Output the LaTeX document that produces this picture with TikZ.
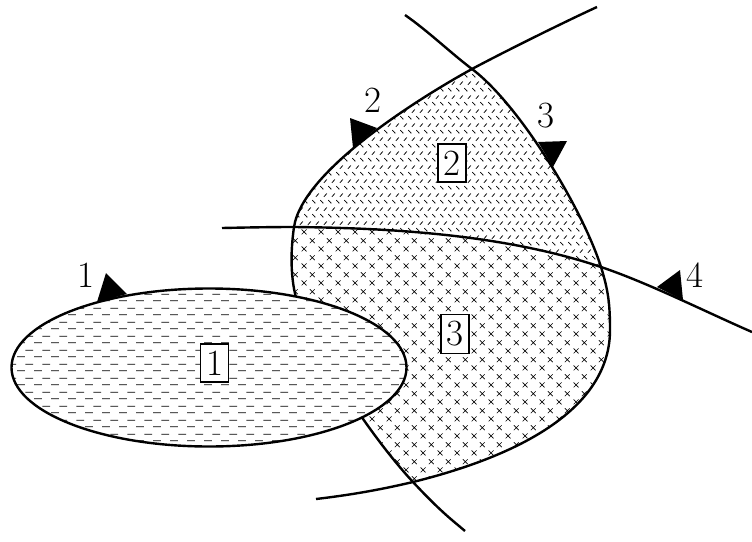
\documentclass[tikz,border=0pt]{standalone}
\usepackage{fontspec}
\usetikzlibrary{patterns}

\pgfdeclarepatternformonly{xmarks}{\pgfqpoint{0pt}{0pt}}{\pgfqpoint{16.67pt}{16.67pt}}{\pgfqpoint{16.67pt}{16.67pt}}{%
  \pgfsetlinewidth{0.7pt}%
  \pgfpathmoveto{\pgfqpoint{1.67pt}{1.67pt}}\pgfpathlineto{\pgfqpoint{6.67pt}{6.67pt}}%
  \pgfpathmoveto{\pgfqpoint{1.67pt}{6.67pt}}\pgfpathlineto{\pgfqpoint{6.67pt}{1.67pt}}%
  \pgfpathmoveto{\pgfqpoint{10pt}{10pt}}\pgfpathlineto{\pgfqpoint{15pt}{15pt}}%
  \pgfpathmoveto{\pgfqpoint{10pt}{15pt}}\pgfpathlineto{\pgfqpoint{15pt}{10pt}}%
  \pgfusepath{stroke}}

\pgfdeclarepatternformonly{hdash}{\pgfqpoint{0pt}{0pt}}{\pgfqpoint{16.67pt}{14pt}}{\pgfqpoint{16.67pt}{14pt}}{%
  \pgfsetlinewidth{0.8pt}%
  \pgfpathmoveto{\pgfqpoint{0.2pt}{3.5pt}}\pgfpathlineto{\pgfqpoint{8.1pt}{3.5pt}}%
  \pgfpathmoveto{\pgfqpoint{8.53pt}{10.5pt}}\pgfpathlineto{\pgfqpoint{16.47pt}{10.5pt}}%
  \pgfusepath{stroke}}

\pgfdeclarepatternformonly{plate}{\pgfqpoint{0pt}{0pt}}{\pgfqpoint{8pt}{14pt}}{\pgfqpoint{8pt}{14pt}}{%
  \pgfsetlinewidth{0.8pt}%
  \pgfpathmoveto{\pgfqpoint{0.3pt}{5.2pt}}\pgfpathlineto{\pgfqpoint{3.7pt}{1.8pt}}%
  \pgfpathmoveto{\pgfqpoint{4.3pt}{8.8pt}}\pgfpathlineto{\pgfqpoint{7.7pt}{12.2pt}}%
  \pgfusepath{stroke}}

\begin{document}
\begin{tikzpicture}[x=1pt,y=-1pt,
  curve/.style={line width=2.4pt},
  lbl/.style={font=\fontsize{37}{40}\selectfont, inner sep=0pt},
  boxlbl/.style={draw, fill=white, line width=1.5pt, font=\fontsize{37}{40}\selectfont, inner xsep=5.5pt, inner ysep=7pt},
  tri/.style={fill=black}]
\useasboundingbox (0,0) rectangle (752,541);
\coordinate (P) at (472,69);
\coordinate (Q) at (294,227);
\coordinate (S) at (601,267);
\coordinate (T) at (610,330);
\coordinate (R) at (413,482);
\coordinate (M) at (300,310);
\coordinate (Ec) at (209,367.5);
% region 2
\path[pattern=plate] (P) .. controls (430,92) and (303,168) .. (Q) .. controls (394,228) and (506,235) .. (S) .. controls (583,210) and (520,105) .. (P) -- cycle;
% region 3
\path[pattern=xmarks] (Q) .. controls (394,228) and (506,235) .. (S) .. controls (608.5,291) and (610,305) .. (T) .. controls (610,400) and (538,451) .. (R) .. controls (372,438) and (318.6,356.5) .. (M) .. controls (292,290) and (289,262) .. (Q) -- cycle;
% curve 2
\draw[curve] (597,7) .. controls (560,24) and (498,55) .. (P) .. controls (430,92) and (303,168) .. (Q) .. controls (289,262) and (292,290) .. (M) .. controls (318.6,356.5) and (372,438) .. (R) .. controls (440,511) and (452,520) .. (465,531);
% curve 3
\draw[curve] (405,15) .. controls (428,31) and (452,54) .. (P) .. controls (520,105) and (583,210) .. (S) .. controls (608.5,291) and (610,305) .. (T) .. controls (610,400) and (538,451) .. (R) .. controls (379,490) and (350,495) .. (316,499);
% curve 4
\draw[curve] (222,228) .. controls (246,227.5) and (270,227) .. (Q) .. controls (394,228) and (506,235) .. (S) .. controls (648.5,283) and (706,312) .. (752,332);
% ellipse (region 1)
\fill[white] (Ec) ellipse [x radius=197.5, y radius=79];
\path[pattern=hdash] (Ec) ellipse [x radius=197.5, y radius=79];
\draw[curve] (Ec) ellipse [x radius=197.5, y radius=79];
% markers
\fill[tri] (97,302) -- (127,294) -- (106,273) -- cycle;
\fill[tri] (353,148) -- (377,128) -- (350,118) -- cycle;
\fill[tri] (538,142) -- (553,167) -- (567,141) -- cycle;
\fill[tri] (657,287) -- (683,300) -- (680,270) -- cycle;
% labels
\node[lbl] (l1) at (86,275) {1};
\node[lbl] (l2) at (373,100) {2};
\node[lbl] (l3) at (546,116) {3};
\node[lbl] (l4) at (695,275) {4};
\node[boxlbl] (r1) at (214.5,363) {1};
\node[boxlbl] (r2) at (452,163) {2};
\node[boxlbl] (r3) at (455,334) {3};
\end{tikzpicture}
\end{document}
